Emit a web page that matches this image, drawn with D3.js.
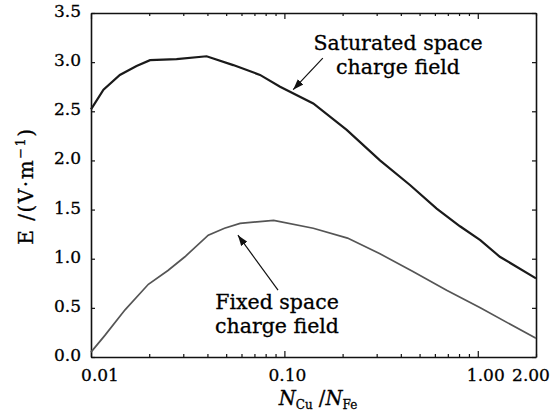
<!DOCTYPE html>
<html>
<head>
<meta charset="utf-8">
<script src="https://cdn.jsdelivr.net/npm/d3@7"></script>
<style>
  body { margin: 0; background: #fff; }
  svg text { font-family: "DejaVu Serif", serif; fill: #000; stroke: #000; stroke-width: 0.3px; }
  .axis path { stroke: #111; stroke-width: 1.6; }
  .axis line { stroke: #111; stroke-width: 1.2; }
</style>
</head>
<body>
<div id="chart"></div>
<script>
// ratio N_Cu/N_Fe and field E
var satRatio = [0.01, 0.0116, 0.0141, 0.0172, 0.0202, 0.0277, 0.0396, 0.0544, 0.0748, 0.095, 0.141, 0.21, 0.312, 0.446, 0.613, 0.809, 1.03, 1.3, 2.0];
var satE     = [2.52, 2.72, 2.87, 2.96, 3.02, 3.03, 3.06, 2.97, 2.87, 2.75, 2.58, 2.31, 2.0, 1.75, 1.51, 1.33, 1.19, 1.02, 0.8];

var fixRatio = [0.01, 0.0118, 0.015, 0.0198, 0.025, 0.0306, 0.0404, 0.049, 0.059, 0.088, 0.141, 0.212, 0.312, 0.462, 0.69, 1.03, 2.0];
var fixE     = [0.05, 0.22, 0.48, 0.74, 0.88, 1.02, 1.24, 1.31, 1.36, 1.39, 1.31, 1.21, 1.05, 0.87, 0.68, 0.5, 0.19];

var xTickValues = [0.01, 0.1, 1, 2];
var xTickLabels = ["0.01", "0.10", "1.00", "2.00"];
var yTickValues = [0, 0.5, 1, 1.5, 2, 2.5, 3, 3.5];
var yTickLabels = ["0.0", "0.5", "1.0", "1.5", "2.0", "2.5", "3.0", "3.5"];

var width = 560, height = 419;
var plotL = 91, plotR = 536, plotT = 13, plotB = 357;

var svg = d3.select("#chart").append("svg")
  .attr("width", width)
  .attr("height", height);

var x = d3.scaleLog().domain([0.01, 2]).range([plotL, plotR]);
var y = d3.scaleLinear().domain([0, 3.5]).range([plotB, plotT]);

var allX = x.ticks();
function isMajor(v) { return [0.01, 0.1, 1].some(function (m) { return Math.abs(v - m) < 1e-9; }); }

// bottom + top axes, ticks pointing inward
svg.append("g").attr("class", "axis")
  .attr("transform", "translate(0," + plotB + ")")
  .call(d3.axisBottom(x).tickValues(allX).tickFormat("").tickSizeOuter(0))
  .selectAll(".tick line").attr("y2", function (d) { return isMajor(d) ? -6 : -3; });

svg.append("g").attr("class", "axis")
  .attr("transform", "translate(0," + plotT + ")")
  .call(d3.axisTop(x).tickValues(allX).tickFormat("").tickSizeOuter(0))
  .selectAll(".tick line").attr("y2", function (d) { return isMajor(d) ? 6 : 3; });

// left + right axes
svg.append("g").attr("class", "axis")
  .attr("transform", "translate(" + plotL + ",0)")
  .call(d3.axisLeft(y).tickValues(yTickValues).tickFormat("").tickSizeOuter(0))
  .selectAll(".tick line").attr("x2", 4);

svg.append("g").attr("class", "axis")
  .attr("transform", "translate(" + plotR + ",0)")
  .call(d3.axisRight(y).tickValues(yTickValues).tickFormat("").tickSizeOuter(0))
  .selectAll(".tick line").attr("x2", -4);

// tick labels (nudged like the original layout)
var xLabelShift = [9, 3, 8, -5];
svg.append("g").selectAll("text")
  .data(xTickValues)
  .join("text")
  .attr("x", function (d, i) { return x(d) + xLabelShift[i]; })
  .attr("y", plotB + 24)
  .attr("text-anchor", "middle")
  .style("font-size", "17px")
  .text(function (d, i) { return xTickLabels[i]; });

svg.append("g").selectAll("text")
  .data(yTickValues)
  .join("text")
  .attr("x", plotL - 10)
  .attr("y", function (d) { return y(d) + 4; })
  .attr("text-anchor", "end")
  .style("font-size", "17px")
  .text(function (d, i) { return yTickLabels[i]; });

// axis titles
var yTitle = svg.append("text")
  .attr("transform", "translate(33,186) rotate(-90)")
  .attr("text-anchor", "middle")
  .style("font-size", "20px")
  .style("letter-spacing", "1.5px");
yTitle.append("tspan").text("E /(V\u00b7m");
yTitle.append("tspan").attr("dy", -8).style("font-size", "13px").text("\u22121");
yTitle.append("tspan").attr("dy", 8).text(")");

var xTitle = svg.append("text")
  .attr("x", 318)
  .attr("y", 405)
  .attr("text-anchor", "middle")
  .style("font-size", "19.5px");
xTitle.append("tspan").style("font-style", "italic").text("N");
xTitle.append("tspan").attr("dy", 4).style("font-size", "12px").text("Cu");
xTitle.append("tspan").attr("dy", -4).text(" /");
xTitle.append("tspan").style("font-style", "italic").text("N");
xTitle.append("tspan").attr("dy", 4).style("font-size", "12px").text("Fe");

// curves
var line = d3.line()
  .x(function (d) { return x(d[0]); })
  .y(function (d) { return y(d[1]); });

svg.append("path")
  .datum(d3.zip(satRatio, satE))
  .attr("fill", "none")
  .attr("stroke", "#1a1a1a")
  .attr("stroke-width", 2.2)
  .attr("d", line);

svg.append("path")
  .datum(d3.zip(fixRatio, fixE))
  .attr("fill", "none")
  .attr("stroke", "#555")
  .attr("stroke-width", 1.7)
  .attr("d", line);

// annotations
svg.append("defs").append("marker")
  .attr("id", "head")
  .attr("viewBox", "0 0 10 10")
  .attr("refX", 10).attr("refY", 5)
  .attr("markerWidth", 9).attr("markerHeight", 9)
  .attr("orient", "auto")
  .append("path")
  .attr("d", "M0,1.5 L10,5 L0,8.5 Z")
  .attr("fill", "#111");

function note(lines, cx, cy) {
  var t = svg.append("text")
    .attr("text-anchor", "middle")
    .style("font-size", "20.5px");
  lines.forEach(function (s, i) {
    t.append("tspan").attr("x", cx).attr("y", cy + i * 24).text(s);
  });
}

note(["Saturated space", "charge field"], 398, 50);
svg.append("line")
  .attr("x1", x(0.158)).attr("y1", y(3.04))
  .attr("x2", x(0.111)).attr("y2", y(2.72))
  .attr("stroke", "#111").attr("stroke-width", 1.2)
  .attr("marker-end", "url(#head)");

note(["Fixed space", "charge field"], 277, 309);
svg.append("line")
  .attr("x1", x(0.0927)).attr("y1", y(0.68))
  .attr("x2", x(0.0575)).attr("y2", y(1.24))
  .attr("stroke", "#111").attr("stroke-width", 1.2)
  .attr("marker-end", "url(#head)");
</script>
</body>
</html>
